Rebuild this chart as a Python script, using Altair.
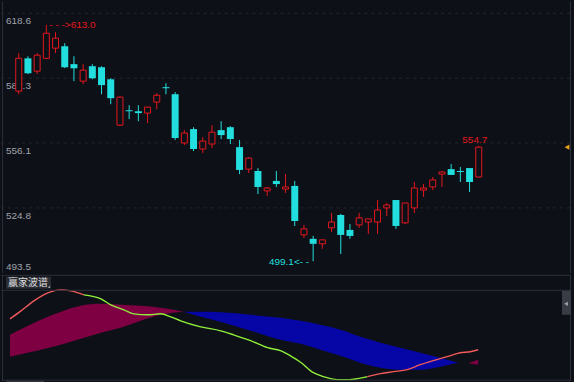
import altair as alt
import pandas as pd

BG = "#0e1017"
RED = "#e3171d"
CYAN = "#22dede"
GRID = "#232630"
FRAME = "#2c2f38"
LABEL = "#a0a4ac"
MAROON = "#7e0042"
BLUE = "#0606a6"
LINE_UP = "#f05a5a"
LINE_DN = "#8ef03a"
ORANGE = "#e8a21a"

# ---------------- candle data ----------------
bars = list(range(1, 52))
opens = [581.1, 596.9, 590.7, 596.9, 601.8, 602.7, 594.1, 585.9, 593.1, 592.6,
         586.8, 564.7, 571.9, 571.4, 570.5, 575.8, 583.0, 579.6, 556.1, 562.8,
         553.2, 555.6, 562.3, 563.7, 554.1, 543.5, 542.6, 533.0, 537.8, 533.9,
         535.4, 511.8, 509.9, 507.5, 515.2, 521.4, 514.2, 516.6, 518.0, 518.0,
         524.8, 528.6, 517.6, 524.8, 533.4, 534.9, 541.1, 543.5, 542.6, 544.0,
         539.7]
highs = [599.4, 597.9, 599.4, 613.0, 609.5, 604.2, 597.9, 594.1, 594.1, 593.1,
         587.3, 578.7, 574.3, 574.3, 573.6, 580.1, 584.9, 580.6, 562.3, 563.7,
         558.9, 564.7, 566.6, 564.2, 557.5, 549.3, 544.0, 534.9, 542.6, 541.1,
         537.8, 516.6, 511.3, 509.4, 522.4, 521.9, 517.1, 522.4, 519.5, 528.6,
         527.2, 528.6, 527.2, 537.3, 536.3, 539.7, 542.6, 545.9, 544.5, 544.0,
         554.7]
lows = [579.6, 589.3, 589.3, 596.5, 599.4, 592.2, 585.9, 584.4, 586.8, 579.6,
        574.8, 564.2, 567.6, 566.6, 565.7, 572.4, 579.6, 557.5, 555.1, 552.2,
        551.2, 553.6, 558.0, 555.6, 541.1, 541.6, 531.5, 530.5, 534.9, 532.0,
        516.1, 510.3, 499.1, 505.1, 513.2, 502.6, 509.9, 515.2, 512.3, 512.3,
        520.9, 514.7, 517.1, 522.4, 530.1, 533.4, 534.9, 540.7, 537.3, 532.5,
        539.5]
closes = [596.9, 589.7, 598.4, 609.0, 606.6, 592.6, 592.1, 591.2, 587.3, 584.0,
          577.7, 578.2, 571.4, 570.5, 573.4, 579.1, 582.5, 558.5, 560.9, 553.2,
          557.0, 561.3, 559.9, 558.0, 543.1, 548.8, 534.9, 534.4, 536.3, 534.9,
          518.5, 514.7, 507.5, 509.4, 518.0, 511.8, 511.3, 520.0, 519.5, 523.8,
          526.2, 516.1, 527.2, 534.4, 534.4, 538.3, 542.1, 540.7, 542.1, 537.3,
          554.1]
price_ticks = [618.6, 587.3, 556.1, 524.8, 493.5]
tick_labels = ["618.6", "587.3", "556.1", "524.8", "493.5"]

# ---------------- indicator data (赢家波谱) ----------------
line_t = [0.57, 1.75, 3.13, 4.62, 6.01, 7.08, 8.46,
          8.46, 10.28, 11.34, 12.73, 13.79, 15.29, 16.67, 17.74, 18.80, 20.94,
          23.07, 24.45, 26.27, 28.08, 29.46, 30.85, 31.60, 32.98, 34.05, 35.54,
          36.61, 37.67, 38.74,
          38.74, 40.13, 41.51, 43.00, 44.39, 45.77, 47.27, 48.65, 49.72, 50.57]
line_v = [68.1, 76.9, 87.9, 96.7, 100.0, 98.9, 94.5,
          94.5, 90.1, 83.5, 78.0, 73.6, 72.5, 73.6, 70.3, 65.9, 59.3,
          54.9, 50.5, 44.0, 36.3, 33.0, 25.3, 20.3, 8.8, 4.4, 1.1,
          1.1, 2.2, 4.4,
          4.4, 7.7, 9.9, 12.1, 17.6, 22.0, 26.4, 30.8, 31.9, 34.1]
line_seg = ["a"] * 7 + ["b"] * 23 + ["c"] * 10

maroon_t = [0.57, 3.88, 6.01, 8.14, 10.28, 12.41, 14.54, 16.67, 19.12]
maroon_hi = [50.5, 67.0, 75.8, 82.4, 84.6, 83.5, 82.4, 80.2, 75.8]
maroon_lo = [26.4, 34.1, 39.6, 46.2, 52.7, 58.2, 65.9, 72.5, 75.8]

blue_t = [19.12, 20.94, 23.07, 26.27, 29.46, 31.60, 33.73, 35.86, 37.99,
          40.13, 42.26, 44.39, 46.52, 48.44]
blue_hi = [75.8, 75.8, 75.3, 72.5, 69.2, 65.9, 61.5, 56.0, 48.4,
           41.8, 36.3, 30.8, 25.3, 19.8]
blue_lo = [75.8, 70.3, 64.8, 54.9, 45.1, 40.7, 34.1, 27.5, 19.8,
           14.3, 12.1, 12.1, 15.4, 19.8]

maroon2_t = [49.51, 50.57]
maroon2_hi = [19.3, 23.1]
maroon2_lo = [19.3, 17.6]

W = 574
H_TOP = 272
H_BOT = 110
X_DOMAIN = [-0.386, 60.81]
Y_DOMAIN = [493.5, 624.37]
IND_DOMAIN = [-4.4, 116.5]

df = pd.DataFrame({"bar": bars, "open": opens, "high": highs, "low": lows, "close": closes})
df["up"] = df["close"] >= df["open"]
df["top"] = df[["open", "close"]].max(axis=1)
df["bot"] = df[["open", "close"]].min(axis=1)

xs = alt.Scale(domain=X_DOMAIN, nice=False, zero=False)
ys = alt.Scale(domain=Y_DOMAIN, nice=False, zero=False)
is_ = alt.Scale(domain=IND_DOMAIN, nice=False, zero=False)

X = alt.X("bar:Q", scale=xs, axis=None)

ticks_df = pd.DataFrame({"v": price_ticks, "label": tick_labels})
grid = alt.Chart(ticks_df).transform_filter("datum.v > 500").mark_rule(
    color=GRID, strokeDash=[3, 4], strokeWidth=1
).encode(y=alt.Y("v:Q", scale=ys, axis=None), x=alt.value(0), x2=alt.value(570))
labels_top = alt.Chart(ticks_df).transform_filter("datum.v > 500").mark_text(
    align="left", baseline="top", dy=3, color=LABEL, font="Liberation Sans", fontSize=10
).encode(x=alt.value(5), y=alt.Y("v:Q", scale=ys, axis=None), text="label:N")
labels_bot = alt.Chart(ticks_df).transform_filter("datum.v <= 500").mark_text(
    align="left", baseline="bottom", dy=-1, color=LABEL, font="Liberation Sans", fontSize=10
).encode(x=alt.value(5), y=alt.Y("v:Q", scale=ys, axis=None), text="label:N")

base = alt.Chart(df)
wicks = base.mark_rule(strokeWidth=1).encode(
    x=X,
    y=alt.Y("low:Q", scale=ys, axis=None),
    y2="high:Q",
    color=alt.condition("datum.up", alt.value(RED), alt.value(CYAN)),
)
down_bodies = base.transform_filter("!datum.up").mark_bar(size=7, color=CYAN).encode(
    x=X, y=alt.Y("bot:Q", scale=ys, axis=None), y2="top:Q"
)
up_bodies = base.transform_filter("datum.up").mark_bar(
    size=6, fill=BG, stroke=RED, strokeWidth=1
).encode(x=X, y=alt.Y("bot:Q", scale=ys, axis=None), y2="top:Q")

hi_i = highs.index(max(highs))
lo_i = lows.index(min(lows))
ann_hi = pd.DataFrame({"bar": [bars[hi_i]], "p": [highs[hi_i]], "t": [f"- - ->{highs[hi_i]:.1f}"]})
ann_lo = pd.DataFrame({"bar": [bars[lo_i]], "p": [lows[lo_i]], "t": [f"{lows[lo_i]:.1f}<- -"]})
ann_last = pd.DataFrame({"bar": [bars[-1]], "p": [highs[-1]], "t": [f"{highs[-1]:.1f}"]})
last_close = pd.DataFrame({"p": [closes[-1]]})

txt_hi = alt.Chart(ann_hi).mark_text(
    align="left", baseline="middle", dx=3, color=RED, font="Liberation Sans", fontSize=10
).encode(x=X, y=alt.Y("p:Q", scale=ys, axis=None), text="t:N")
txt_lo = alt.Chart(ann_lo).mark_text(
    align="right", baseline="middle", dx=-4, dy=1, color=CYAN, font="Liberation Sans", fontSize=10
).encode(x=X, y=alt.Y("p:Q", scale=ys, axis=None), text="t:N")
txt_last = alt.Chart(ann_last).mark_text(
    align="center", baseline="alphabetic", dx=-4, dy=-3, color=RED, font="Liberation Sans", fontSize=10
).encode(x=X, y=alt.Y("p:Q", scale=ys, axis=None), text="t:N")
marker = alt.Chart(last_close).mark_point(
    shape="triangle-left", filled=True, size=30, color=ORANGE, opacity=1
).encode(x=alt.value(567), y=alt.Y("p:Q", scale=ys, axis=None))

dummy = pd.DataFrame({"d": [0]})
top_border_r = alt.Chart(dummy).mark_rule(color=FRAME, strokeWidth=1).encode(
    x=alt.value(570.5), y=alt.value(0), y2=alt.value(H_TOP))
top_border_l = alt.Chart(dummy).mark_rule(color=FRAME, strokeWidth=1).encode(
    x=alt.value(1.5), y=alt.value(0), y2=alt.value(H_TOP))

top = alt.layer(
    grid, labels_top, labels_bot, wicks, down_bodies, up_bodies,
    txt_hi, txt_lo, txt_last, marker, top_border_r, top_border_l
).properties(width=W, height=H_TOP)

# ---------------- bottom panel ----------------
mar_df = pd.DataFrame({"t": maroon_t, "hi": maroon_hi, "lo": maroon_lo})
blue_df = pd.DataFrame({"t": blue_t, "hi": blue_hi, "lo": blue_lo})
mar2_df = pd.DataFrame({"t": maroon2_t, "hi": maroon2_hi, "lo": maroon2_lo})
line_df = pd.DataFrame({"t": line_t, "v": line_v, "seg": line_seg})

XT = alt.X("t:Q", scale=xs, axis=None)


def band(d, color):
    return alt.Chart(d).mark_area(color=color, opacity=1, interpolate="monotone").encode(
        x=XT, y=alt.Y("hi:Q", scale=is_, axis=None), y2="lo:Q")


ind_line = alt.Chart(line_df).mark_line(strokeWidth=1.4, interpolate="monotone").encode(
    x=XT,
    y=alt.Y("v:Q", scale=is_, axis=None),
    color=alt.Color("seg:N", scale=alt.Scale(domain=["a", "b", "c"], range=[LINE_UP, LINE_DN, LINE_UP]),
                    legend=None),
)

dc = alt.Chart(dummy)
chrome = [
    dc.mark_rule(color=FRAME).encode(x=alt.value(0), x2=alt.value(571), y=alt.value(0.5)),
    dc.mark_rule(color=FRAME).encode(x=alt.value(0), x2=alt.value(571), y=alt.value(15.5)),
    dc.mark_rule(color=FRAME).encode(x=alt.value(0), x2=alt.value(571), y=alt.value(105.5)),
    dc.mark_rule(color=FRAME).encode(x=alt.value(570.5), y=alt.value(0), y2=alt.value(106)),
    dc.mark_rule(color=FRAME).encode(x=alt.value(1.5), y=alt.value(0), y2=alt.value(106)),
    dc.mark_rect(color="#2b2d35").encode(x=alt.value(5), x2=alt.value(50), y=alt.value(2), y2=alt.value(14)),
    dc.mark_text(text="赢家波谱", align="left", baseline="middle", font="Noto Sans CJK SC",
                 fontSize=10, color="#dcdcdc").encode(x=alt.value(7), y=alt.value(8)),
    dc.mark_point(shape="M1,-1L1,1L-1,1Z", filled=True, size=6, color="#9a9ca4", opacity=1).encode(
        x=alt.value(48), y=alt.value(12)),
    dc.mark_rect(color="#3a3c45").encode(x=alt.value(562), x2=alt.value(571), y=alt.value(16), y2=alt.value(40)),
    dc.mark_point(shape="triangle-left", filled=True, size=18, color="#a0a2aa", opacity=1).encode(
        x=alt.value(566), y=alt.value(29)),
    dc.mark_rect(color="#33353d").encode(x=alt.value(5), x2=alt.value(43), y=alt.value(106), y2=alt.value(110)),
]

bottom = alt.layer(
    band(mar_df, MAROON), band(blue_df, BLUE), band(mar2_df, MAROON), ind_line, *chrome
).properties(width=W, height=H_BOT)

chart = alt.vconcat(top, bottom, spacing=0).properties(
    padding=0, background=BG
).configure_view(strokeWidth=0).configure_concat(spacing=0)

chart.save("out.html", embed_options={"renderer": "svg", "actions": False})
